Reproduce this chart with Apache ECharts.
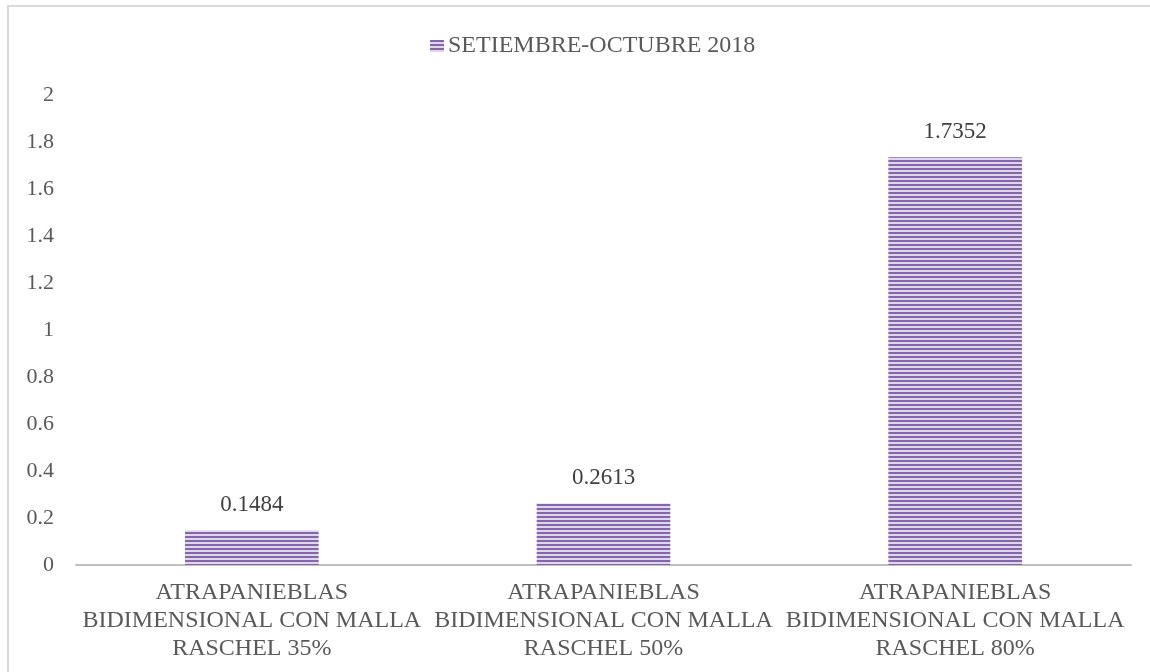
<!DOCTYPE html>
<html>
<head>
<meta charset="utf-8">
<script src="https://cdn.jsdelivr.net/npm/echarts@6/dist/echarts.min.js"></script>
<style>
html,body{margin:0;padding:0;background:#fff;overflow:hidden;}
#frame{position:absolute;left:7px;top:5px;width:1300px;height:800px;border:2px solid #d9d9d9;box-sizing:border-box;}
#chart{position:absolute;left:0;top:0;width:1150px;height:672px;}
</style>
</head>
<body>
<div id="frame"></div>
<div id="chart"></div>
<script>
const categories = [
  "ATRAPANIEBLAS\nBIDIMENSIONAL CON MALLA\nRASCHEL 35%",
  "ATRAPANIEBLAS\nBIDIMENSIONAL CON MALLA\nRASCHEL 50%",
  "ATRAPANIEBLAS\nBIDIMENSIONAL CON MALLA\nRASCHEL 80%"
];
const seriesName = "SETIEMBRE-OCTUBRE 2018";
const values = [0.1484, 0.2613, 1.7352];
const yTicks = [0, 0.2, 0.4, 0.6, 0.8, 1, 1.2, 1.4, 1.6, 1.8, 2];

function stripes() {
  const c = document.createElement('canvas');
  c.width = 4; c.height = 4;
  const g = c.getContext('2d');
  g.fillStyle = '#e0d6ec'; g.fillRect(0, 0, 4, 4);
  g.fillStyle = '#8467ab'; g.fillRect(0, 0, 4, 2);
  return c;
}
const pattern = { image: stripes(), repeat: 'repeat' };

const chart = echarts.init(document.getElementById('chart'));
const font = '"Liberation Serif", "Times New Roman", serif';
chart.setOption({
  animation: false,
  textStyle: { fontFamily: font },
  legend: {
    top: 29, left: 425,
    itemWidth: 14, itemHeight: 12, itemGap: 4,
    textStyle: { fontFamily: font, fontSize: 24, color: '#595959', padding: [0, 0, 0, -1] },
    data: [{ name: seriesName, icon: 'rect' }]
  },
  grid: { left: 76, right: 19, top: 95, bottom: 107, containLabel: false },
  xAxis: {
    type: 'category', data: categories,
    axisLine: { lineStyle: { color: '#bfbfbf', width: 2 } },
    axisTick: { show: false },
    axisLabel: { fontFamily: font, fontSize: 24, color: '#595959', lineHeight: 28, margin: 14, interval: 0 }
  },
  yAxis: {
    type: 'value', min: yTicks[0], max: yTicks[yTicks.length - 1], interval: 0.2,
    axisLine: { show: false }, axisTick: { show: false },
    splitLine: { show: false },
    axisLabel: { fontFamily: font, fontSize: 22, color: '#595959', margin: 22,
      formatter: v => String(Math.round(v * 10) / 10) }
  },
  series: [{
    name: seriesName, type: 'bar', data: values, barWidth: '38%',
    itemStyle: { color: pattern },
    label: { show: true, position: 'top', distance: 14, fontFamily: font, fontSize: 23, color: '#404040',
      formatter: p => p.value.toFixed(4) }
  }]
});
</script>
</body>
</html>
